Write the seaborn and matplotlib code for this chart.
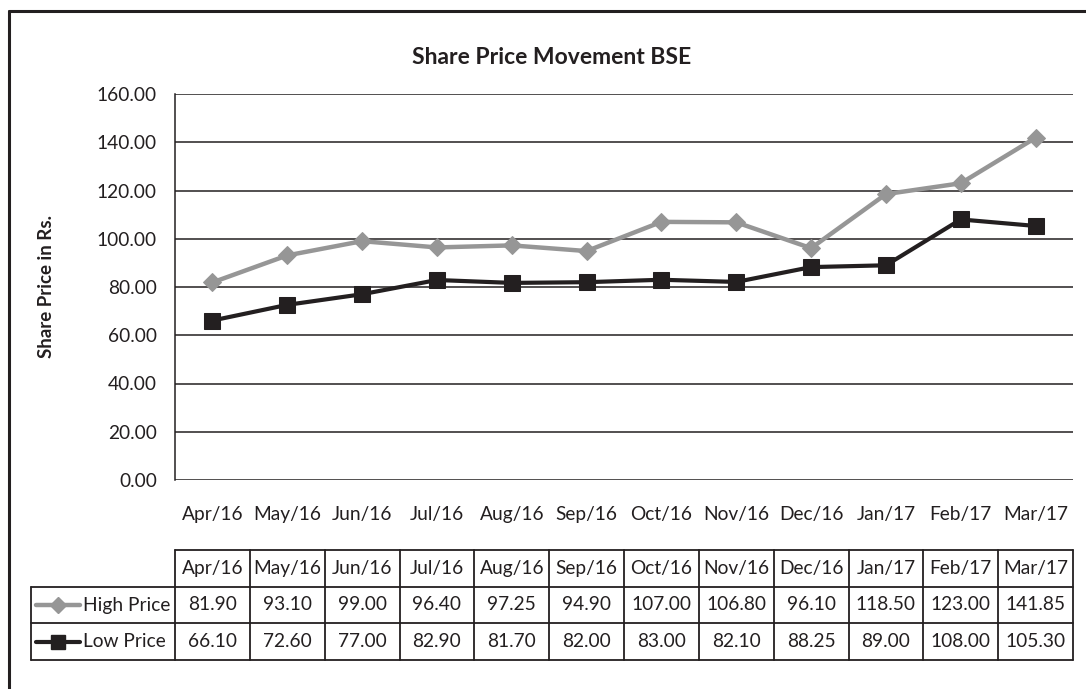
import pandas as pd
import numpy as np
import seaborn as sns
import matplotlib.pyplot as plt
from matplotlib.lines import Line2D

months = ['Apr/16', 'May/16', 'Jun/16', 'Jul/16', 'Aug/16', 'Sep/16',
          'Oct/16', 'Nov/16', 'Dec/16', 'Jan/17', 'Feb/17', 'Mar/17']
high_price = [81.90, 93.10, 99.00, 96.40, 97.25, 94.90, 107.00, 106.80, 96.10, 118.50, 123.00, 141.85]
low_price = [66.10, 72.60, 77.00, 82.90, 81.70, 82.00, 83.00, 82.10, 88.25, 89.00, 108.00, 105.30]
series_names = ['High Price', 'Low Price']

sns.set_theme(style='white')
plt.rcParams['font.family'] = ['Lato', 'DejaVu Sans']

ink = '#231f20'
grey = '#969696'
fs = 13.8

W, H = 1086, 689
fig = plt.figure(figsize=(W / 100, H / 100), dpi=100)

# plot area in pixels
x0, x1, ytop, ybot = 175, 1073, 94, 480
ax = fig.add_axes([x0 / W, 1 - ybot / H, (x1 - x0) / W, (ybot - ytop) / H])

df = pd.DataFrame({'Month': months, 'High Price': high_price, 'Low Price': low_price})
sns.lineplot(data=df, x='Month', y='High Price', ax=ax, color=grey, lw=3.2,
             marker='D', markersize=9, markeredgecolor=grey, sort=False)
sns.lineplot(data=df, x='Month', y='Low Price', ax=ax, color=ink, lw=3.0,
             marker='s', markersize=11, markeredgecolor=ink, sort=False)

ax.set_xlim(-0.5, len(months) - 0.5)
ax.set_ylim(0, 160)
ax.set_yticks(np.arange(0, 161, 20))
ax.set_yticklabels([f'{v:.2f}' for v in np.arange(0, 161, 20)])
ax.yaxis.grid(True, color=ink, lw=1.1)
ax.set_axisbelow(True)
for s in ['top', 'right', 'bottom']:
    ax.spines[s].set_visible(False)
ax.spines['left'].set_color(ink)
ax.spines['left'].set_linewidth(1.1)
ax.tick_params(axis='y', length=0, pad=13, labelsize=fs, colors=ink)
ax.tick_params(axis='x', length=0, pad=19, labelsize=fs, colors=ink)
ax.set_xlabel('')
ax.set_ylabel('Share Price in Rs.', fontsize=13.5, fontweight='bold', color=ink, labelpad=30)

fig.text(552 / W, 1 - 57 / H, 'Share Price Movement BSE', ha='center', va='center',
         fontsize=16.5, fontweight='bold', color=ink)

# data table
col_w = (x1 - x0) / len(months)
tx0, ttop, tbot = 31, 550, 660
tab = fig.add_axes([tx0 / W, 1 - tbot / H, (x1 - tx0) / W, (tbot - ttop) / H])
left_edge = -0.5 - (x0 - tx0) / col_w
tab.set_xlim(left_edge, len(months) - 0.5)
tab.set_ylim(3, 0)
tab.axis('off')

lw_t = 1.3
# horizontal lines
tab.plot([-0.5, len(months) - 0.5], [0, 0], color=ink, lw=lw_t, clip_on=False)
for yy in [1, 2, 3]:
    tab.plot([left_edge, len(months) - 0.5], [yy, yy], color=ink, lw=lw_t, clip_on=False)
# vertical lines
tab.plot([left_edge, left_edge], [1, 3], color=ink, lw=lw_t, clip_on=False)
for i in range(len(months) + 1):
    tab.plot([i - 0.5, i - 0.5], [0, 3], color=ink, lw=lw_t, clip_on=False)

for i, m in enumerate(months):
    tab.text(i, 0.5, m, ha='center', va='center', fontsize=fs, color=ink)
    tab.text(i, 1.5, f'{high_price[i]:.2f}', ha='center', va='center', fontsize=fs, color=ink)
    tab.text(i, 2.5, f'{low_price[i]:.2f}', ha='center', va='center', fontsize=fs, color=ink)

# legend keys in row labels
px = 1 / col_w
styles = [dict(color=grey, lw=3.2, marker='D', markersize=8),
          dict(color=ink, lw=3.0, marker='s', markersize=10)]
for r, (name, st) in enumerate(zip(series_names, styles)):
    yy = 1.5 + r
    tab.add_line(Line2D([left_edge + 5 * px, left_edge + 49 * px], [yy, yy],
                        clip_on=False, color=st['color'], lw=st['lw']))
    tab.plot([left_edge + 27 * px], [yy], marker=st['marker'], markersize=st['markersize'],
             color=st['color'], clip_on=False, ls='none')
    tab.text(left_edge + 52 * px, yy, name, ha='left', va='center', fontsize=fs, color=ink)

# outer frame (left and top edges)
fig.add_artist(Line2D([9 / W, 9 / W], [0, 1 - 11 / H], transform=fig.transFigure, color=ink, lw=2.2))
fig.add_artist(Line2D([9 / W, 1], [1 - 11 / H, 1 - 11 / H], transform=fig.transFigure, color=ink, lw=2.2))

plt.savefig('out.png', dpi=100)
